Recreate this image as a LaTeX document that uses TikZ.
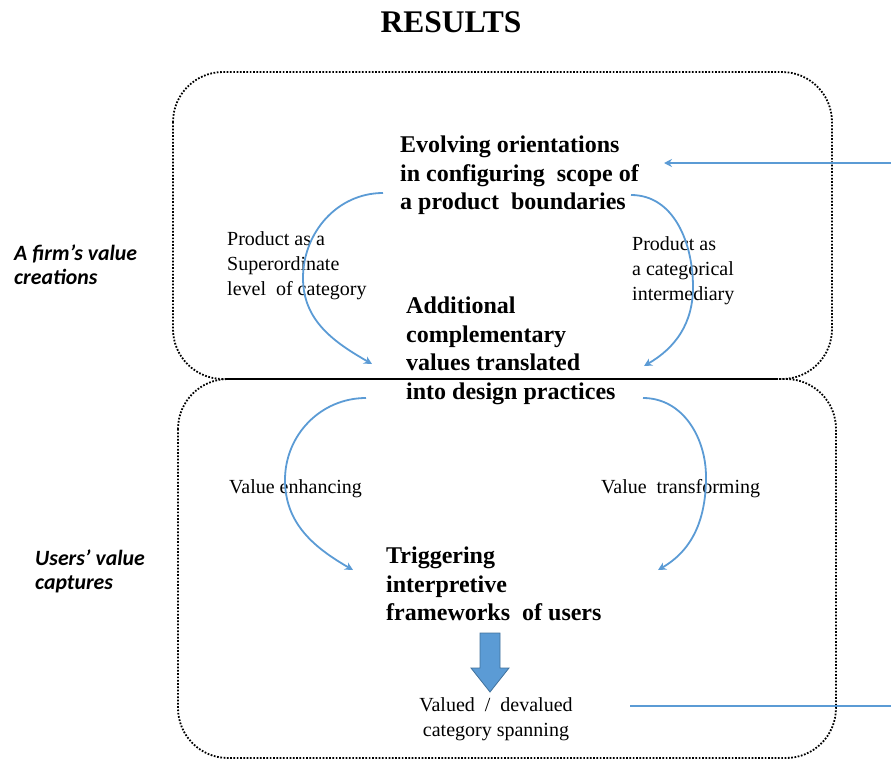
\documentclass[tikz,border=0pt]{standalone}
\usepackage{fontspec}
\setmainfont{Liberation Serif}
\newfontfamily\sidefont{Carlito}
\usetikzlibrary{arrows.meta}
\definecolor{flowblue}{RGB}{91,155,213}
\definecolor{flowedge}{RGB}{65,113,156}

\begin{document}
\begin{tikzpicture}[x=1pt,y=-1pt,
  heading/.style={font=\bfseries\fontsize{31.5}{36}\selectfont, inner sep=0, anchor=base},
  stage/.style={font=\bfseries\fontsize{24}{28.5}\selectfont, align=left, anchor=north west, inner sep=0},
  note/.style={font=\fontsize{20}{25}\selectfont, align=left, anchor=north west, inner sep=0},
  side/.style={font=\sidefont\bfseries\itshape\fontsize{21.8}{24}\selectfont, align=left, anchor=north west, inner sep=0},
  panel/.style={draw=black, line width=1.8pt, dash pattern=on 1.7pt off 1.6pt, rounded corners=50pt},
  flow/.style={draw=flowblue, line width=1.8pt, -{Stealth[length=8pt,width=8pt]}},
]
\useasboundingbox (0,0) rectangle (891,761);

% title
\node[heading] (title) at (451,32) {RESULTS};

% the two dotted panels and their shared edge
\draw[panel] (173,72) rectangle (832,379);
\draw[panel] (178,379) rectangle (836,758);
\draw[line width=1.9pt] (225,379) -- (776,379);

% panel captions
\node[side] (firm) at (14,245) {A firm’s value\\creations};
\node[side] (users) at (35,550) {Users’ value\\captures};

% main stages
\node[stage] (evolve) at (400,136) {Evolving orientations\\in configuring\ \ scope of\\a product\ \ boundaries};
\node[stage] (design) at (406,297) {Additional\\complementary\\values translated\\into design practices};
\node[stage] (trigger) at (386,547) {Triggering\\interpretive\\frameworks\ \ of users};
\node[note, align=center, anchor=north] (spanning) at (496,697.5) {Valued\ \ /\ \ devalued\\category spanning};

% arc labels
\node[note] (superord) at (227,231.5) {Product as a\\Superordinate\\level\ \ of category};
\node[note] (intermed) at (632,236.5) {Product as\\a categorical\\intermediary};
\node[note, anchor=base west] (enhance) at (229,493) {Value enhancing};
\node[note, anchor=base west] (transform) at (601,493) {Value\ \ transforming};

% end points of the curved connectors
\coordinate (a1s) at (383,193);
\coordinate (a1m) at (303,278);
\coordinate (a1e) at (372,364);
\coordinate (a2s) at (631,195);
\coordinate (a2m) at (693,287);
\coordinate (a2e) at (644,366);
\coordinate (b1s) at (366,398);
\coordinate (b1m) at (285,480);
\coordinate (b1e) at (353,570);
\coordinate (b2s) at (643,398);
\coordinate (b2m) at (706,477);
\coordinate (b2e) at (658,570);
\coordinate (fbin) at (891,163);
\coordinate (fbtip) at (664,163);
\coordinate (fbout) at (891,706);
\coordinate (fbstart) at (630,706);

% curved connectors
\draw[flow] (a1s) to[out=180,in=90] (a1m) to[out=-90,in=150] (a1e);
\draw[flow] (a2s) to[out=0,in=90] (a2m) to[out=-90,in=30] (a2e);
\draw[flow] (b1s) to[out=180,in=90] (b1m) to[out=-90,in=150] (b1e);
\draw[flow] (b2s) to[out=0,in=90] (b2m) to[out=-90,in=30] (b2e);

% feedback lines at the right
\draw[flow] (fbin) -- (fbtip);
\draw[draw=flowblue, line width=1.8pt] (fbstart) -- (fbout);

% block arrow
\draw[fill=flowblue, draw=flowedge, line width=0.8pt]
  (480,633) -- (500,633) -- (500,668) -- (509,668) -- (490,692)
  -- (471,668) -- (480,668) -- cycle;
\end{tikzpicture}
\end{document}
